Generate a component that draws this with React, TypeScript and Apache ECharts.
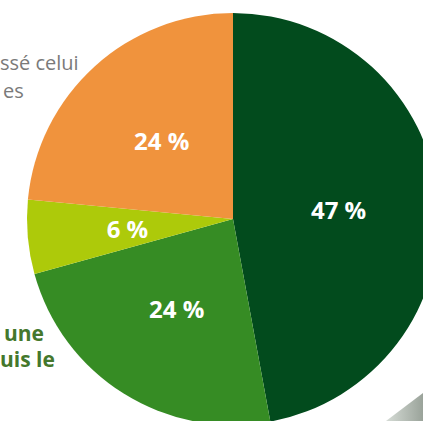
import React, { useEffect, useRef } from "react";
import * as echarts from "echarts";

const categories = ["A", "B", "C", "D"];
const values = [47.1, 23.6, 5.8, 23.5];
const colors = ["#024b1d", "#368c24", "#adca0a", "#f0933d"];
const grayLines = ["ssé celui", "es"];
const greenLines = ["une", "uis le"];

export default function App() {
  const ref = useRef<HTMLDivElement>(null);
  useEffect(() => {
    if (!ref.current) return;
    const chart = echarts.init(ref.current, null, { renderer: "svg" });
    chart.setOption({
      animation: false,
      backgroundColor: "#ffffff",
      graphic: [
        {
          type: "polygon",
          shape: { points: [[386, 421], [423, 393], [423, 421]] },
          style: {
            fill: new echarts.graphic.LinearGradient(0, 0, 1, 0, [
              { offset: 0, color: "#d6dcd6" },
              { offset: 1, color: "#9aa39a" },
            ]),
          },
          z: 0,
        },
        ...grayLines.map((t, i) => ({
          type: "text",
          left: i === 0 ? 0 : 3,
          top: 52 + i * 28,
          style: {
            text: t,
            fill: "#7a7a7a",
            font: "20px 'Open Sans', sans-serif",
          },
        })),
        ...greenLines.map((t, i) => ({
          type: "text",
          left: i === 0 ? 4 : 0,
          top: 322 + i * 26,
          style: {
            text: t,
            fill: "#44782c",
            font: "bold 21px 'Open Sans', sans-serif",
          },
        })),
      ],
      series: [
        {
          type: "pie",
          center: [233, 219],
          radius: 206,
          startAngle: 90,
          clockwise: true,
          silent: true,
          label: {
            show: true,
            position: "inside",
            formatter: (p: any) => Math.round(p.value) + " %",
            color: "#ffffff",
            fontSize: 24,
            fontWeight: "bold",
            fontFamily: "'Open Sans', sans-serif",
          },
          labelLine: { show: false },
          itemStyle: { borderWidth: 0 },
          data: categories.map((c, i) => ({
            name: c,
            value: values[i],
            itemStyle: { color: colors[i] },
          })),
        },
      ],
    });
    return () => chart.dispose();
  }, []);
  return (
    <div
      ref={ref}
      style={{ position: "fixed", left: 0, top: 0, width: 423, height: 421 }}
    />
  );
}
